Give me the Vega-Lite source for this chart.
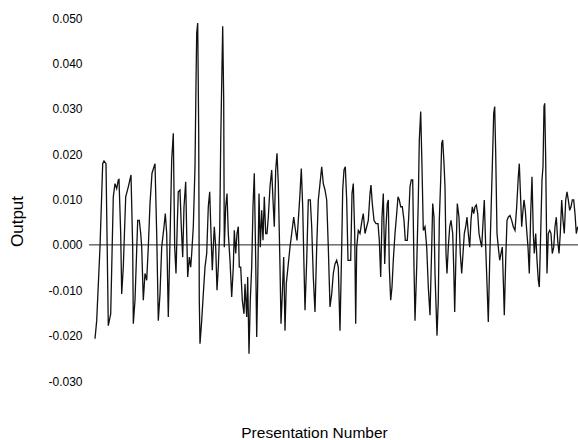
{
  "$schema": "https://vega.github.io/schema/vega-lite/v6.json",
  "width": 489,
  "height": 363,
  "autosize": {"type": "none"},
  "padding": {"left": 89, "top": 18, "right": 0, "bottom": 59},
  "background": "white",
  "config": {"view": {"stroke": null}, "font": "Liberation Sans"},
  "datasets": {
    "series": [
      {"n":6.0,"output":-0.0207},{"n":7.7,"output":-0.0167},{"n":11.0,"output":-0.0005},{"n":13.7,"output":0.0179},{"n":15.0,"output":0.0185},{"n":17.0,"output":0.0179},{"n":19.3,"output":-0.0178},{"n":21.7,"output":-0.0152},{"n":24.3,"output":0.0106},{"n":26.0,"output":0.0135},{"n":27.7,"output":0.0124},{"n":29.3,"output":0.0143},{"n":30.0,"output":0.0144},{"n":31.7,"output":0.0025},{"n":32.7,"output":-0.0108},{"n":34.3,"output":-0.0049},{"n":36.7,"output":0.0106},{"n":39.3,"output":0.0128},{"n":42.0,"output":0.0154},{"n":43.7,"output":-0.0005},{"n":44.3,"output":-0.0174},{"n":46.0,"output":-0.0122},{"n":48.7,"output":0.0054},{"n":50.3,"output":0.0054},{"n":51.7,"output":0.0025},{"n":52.7,"output":-0.0005},{"n":54.3,"output":-0.0122},{"n":56.0,"output":-0.0063},{"n":57.7,"output":-0.0078},{"n":59.3,"output":-0.0005},{"n":61.0,"output":0.0091},{"n":63.0,"output":0.0158},{"n":66.0,"output":0.0179},{"n":67.7,"output":0.0025},{"n":69.3,"output":-0.0167},{"n":71.0,"output":-0.0108},{"n":72.7,"output":-0.0005},{"n":75.0,"output":0.0040},{"n":76.3,"output":0.0069},{"n":77.7,"output":0.0025},{"n":79.3,"output":-0.0159},{"n":81.0,"output":0.0010},{"n":82.7,"output":0.0187},{"n":84.3,"output":0.0246},{"n":85.7,"output":-0.0005},{"n":87.0,"output":-0.0063},{"n":88.3,"output":0.0047},{"n":89.3,"output":0.0117},{"n":91.0,"output":0.0121},{"n":92.3,"output":0.0040},{"n":93.7,"output":-0.0027},{"n":95.0,"output":0.0084},{"n":96.7,"output":0.0139},{"n":97.7,"output":0.0025},{"n":98.7,"output":-0.0071},{"n":100.3,"output":-0.0027},{"n":101.7,"output":-0.0049},{"n":102.7,"output":-0.0019},{"n":104.3,"output":0.0040},{"n":106.0,"output":0.0172},{"n":107.0,"output":0.0356},{"n":107.7,"output":0.0467},{"n":108.7,"output":0.0489},{"n":109.7,"output":0.0246},{"n":110.3,"output":-0.0122},{"n":111.0,"output":-0.0218},{"n":112.7,"output":-0.0167},{"n":114.3,"output":-0.0108},
      {"n":116.0,"output":-0.0049},{"n":117.7,"output":-0.0019},{"n":119.3,"output":0.0084},{"n":120.7,"output":0.0117},{"n":122.0,"output":0.0025},{"n":123.3,"output":-0.0056},{"n":124.3,"output":-0.0005},{"n":125.3,"output":0.0040},{"n":126.7,"output":-0.0005},{"n":128.0,"output":-0.0100},{"n":129.3,"output":-0.0049},{"n":130.7,"output":0.0032},{"n":131.7,"output":0.0224},{"n":132.7,"output":0.0356},{"n":133.7,"output":0.0482},{"n":134.7,"output":0.0319},{"n":135.3,"output":-0.0005},{"n":136.7,"output":0.0084},{"n":138.0,"output":0.0113},{"n":139.3,"output":0.0025},{"n":141.0,"output":-0.0034},{"n":142.7,"output":-0.0115},{"n":144.3,"output":-0.0049},{"n":145.3,"output":0.0032},{"n":146.7,"output":-0.0019},{"n":148.0,"output":0.0025},{"n":149.3,"output":0.0040},{"n":150.3,"output":-0.0049},{"n":151.7,"output":-0.0049},{"n":153.3,"output":-0.0122},{"n":155.0,"output":-0.0152},{"n":156.0,"output":-0.0086},{"n":157.7,"output":-0.0159},{"n":158.7,"output":-0.0071},{"n":160.0,"output":-0.0240},{"n":161.3,"output":-0.0122},{"n":162.7,"output":-0.0049},{"n":164.0,"output":0.0084},{"n":165.3,"output":0.0158},{"n":166.7,"output":-0.0034},{"n":167.7,"output":-0.0203},{"n":168.7,"output":-0.0085},{"n":170.0,"output":0.0113},{"n":171.3,"output":-0.0005},{"n":172.7,"output":0.0076},{"n":174.0,"output":0.0010},{"n":175.3,"output":0.0106},{"n":176.7,"output":0.0025},{"n":178.0,"output":0.0025},{"n":179.3,"output":0.0061},{"n":181.0,"output":0.0128},{"n":182.7,"output":0.0165},{"n":184.0,"output":0.0099},{"n":185.3,"output":0.0040},{"n":186.7,"output":0.0165},{"n":188.0,"output":0.0202},{"n":189.3,"output":0.0135},{"n":191.0,"output":-0.0049},{"n":192.0,"output":-0.0174},{"n":193.3,"output":-0.0108},{"n":194.7,"output":-0.0027},{"n":196.0,"output":-0.0189},{"n":197.3,"output":-0.0085},{"n":199.3,"output":-0.0042},{"n":201.0,"output":-0.0005},{"n":202.7,"output":0.0025},{"n":204.7,"output":0.0061},{"n":206.0,"output":0.0040},{"n":208.0,"output":0.0010},{"n":209.3,"output":0.0054},{"n":211.0,"output":0.0113},{"n":212.3,"output":0.0168},{"n":213.7,"output":0.0084},{"n":215.0,"output":-0.0049},{"n":216.0,"output":-0.0144},{"n":217.7,"output":-0.0034},{"n":219.3,"output":0.0099},{"n":221.3,"output":0.0099},{"n":222.7,"output":0.0040},{"n":224.3,"output":-0.0071},{"n":226.0,"output":-0.0148},{"n":227.7,"output":-0.0005},{"n":229.3,"output":0.0099},{"n":231.0,"output":0.0135},
      {"n":232.7,"output":0.0172},{"n":234.3,"output":0.0135},{"n":236.0,"output":0.0121},{"n":237.7,"output":0.0099},{"n":239.3,"output":-0.0005},{"n":241.0,"output":-0.0137},{"n":242.7,"output":-0.0108},{"n":244.3,"output":-0.0063},{"n":246.0,"output":-0.0042},{"n":247.7,"output":-0.0034},{"n":249.3,"output":-0.0049},{"n":251.0,"output":-0.0189},{"n":252.7,"output":-0.0005},{"n":253.7,"output":0.0121},{"n":255.0,"output":0.0165},{"n":256.3,"output":0.0172},{"n":257.7,"output":0.0099},{"n":259.0,"output":-0.0034},{"n":260.3,"output":-0.0034},{"n":261.7,"output":-0.0034},{"n":263.0,"output":0.0113},{"n":264.3,"output":0.0135},{"n":265.7,"output":0.0025},{"n":266.7,"output":-0.0174},{"n":267.7,"output":-0.0005},{"n":269.3,"output":0.0032},{"n":271.0,"output":0.0025},{"n":273.0,"output":0.0054},{"n":274.3,"output":0.0069},{"n":276.0,"output":0.0025},{"n":277.7,"output":0.0040},{"n":279.3,"output":0.0054},{"n":281.0,"output":0.0113},{"n":282.0,"output":0.0132},{"n":283.3,"output":0.0091},{"n":285.0,"output":0.0054},{"n":287.0,"output":0.0047},{"n":289.0,"output":0.0047},{"n":290.3,"output":0.0010},{"n":291.7,"output":-0.0071},{"n":293.0,"output":0.0061},{"n":294.3,"output":0.0113},{"n":295.7,"output":-0.0042},{"n":297.0,"output":0.0040},{"n":298.3,"output":0.0091},{"n":299.3,"output":0.0099},{"n":300.3,"output":-0.0049},{"n":301.7,"output":-0.0122},{"n":303.0,"output":-0.0093},{"n":304.3,"output":-0.0034},{"n":306.0,"output":0.0025},{"n":307.7,"output":0.0069},{"n":309.0,"output":0.0106},{"n":310.3,"output":0.0099},{"n":311.7,"output":0.0084},{"n":313.3,"output":0.0084},{"n":315.0,"output":0.0054},{"n":316.3,"output":0.0010},{"n":318.3,"output":0.0010},{"n":319.7,"output":0.0061},{"n":321.0,"output":0.0128},{"n":322.3,"output":0.0143},{"n":323.7,"output":0.0143},{"n":325.0,"output":-0.0049},{"n":326.0,"output":-0.0167},{"n":327.7,"output":-0.0049},{"n":329.3,"output":0.0099},{"n":330.3,"output":0.0231},{"n":331.7,"output":0.0294},{"n":333.0,"output":0.0172},{"n":334.3,"output":0.0032},{"n":336.0,"output":0.0040},{"n":337.7,"output":-0.0005},{"n":339.3,"output":-0.0093},{"n":341.0,"output":-0.0155},{"n":342.7,"output":-0.0005},{"n":343.7,"output":0.0091},{"n":345.0,"output":0.0061},{"n":346.0,"output":-0.0063},
      {"n":348.0,"output":-0.0200},{"n":349.3,"output":-0.0122},{"n":350.3,"output":0.0054},{"n":351.7,"output":0.0143},{"n":352.7,"output":0.0224},{"n":353.7,"output":0.0231},{"n":355.0,"output":0.0179},{"n":356.0,"output":0.0128},{"n":357.0,"output":-0.0019},{"n":358.0,"output":-0.0063},{"n":359.3,"output":-0.0005},{"n":360.7,"output":0.0040},{"n":362.0,"output":0.0054},{"n":363.7,"output":0.0025},{"n":364.7,"output":-0.0049},{"n":365.7,"output":-0.0148},{"n":367.0,"output":-0.0019},{"n":368.3,"output":0.0091},{"n":370.0,"output":0.0061},{"n":371.3,"output":-0.0019},{"n":372.7,"output":-0.0063},{"n":374.0,"output":-0.0019},{"n":375.3,"output":0.0025},{"n":376.7,"output":0.0040},{"n":378.0,"output":0.0061},{"n":379.3,"output":0.0025},{"n":380.7,"output":-0.0005},{"n":382.0,"output":0.0054},{"n":383.3,"output":0.0084},{"n":384.7,"output":0.0069},{"n":386.0,"output":0.0084},{"n":387.3,"output":0.0088},{"n":388.7,"output":0.0069},{"n":390.0,"output":0.0025},{"n":391.3,"output":0.0010},{"n":392.7,"output":-0.0005},{"n":394.3,"output":0.0061},{"n":395.3,"output":0.0099},{"n":396.7,"output":-0.0005},{"n":398.0,"output":-0.0085},{"n":399.3,"output":-0.0170},{"n":400.7,"output":-0.0034},{"n":402.0,"output":0.0069},{"n":403.3,"output":0.0172},{"n":404.7,"output":0.0290},{"n":405.7,"output":0.0305},{"n":406.7,"output":0.0202},{"n":408.0,"output":0.0025},{"n":409.3,"output":-0.0005},{"n":410.7,"output":-0.0034},{"n":412.0,"output":-0.0019},{"n":413.3,"output":-0.0005},{"n":414.3,"output":-0.0078},{"n":415.3,"output":-0.0155},{"n":416.7,"output":-0.0034},{"n":418.0,"output":0.0054},{"n":419.3,"output":0.0061},{"n":421.0,"output":0.0065},{"n":422.7,"output":0.0054},{"n":424.3,"output":0.0040},{"n":426.0,"output":0.0032},{"n":427.7,"output":0.0084},{"n":429.3,"output":0.0150},{"n":430.3,"output":0.0179},{"n":431.7,"output":0.0099},{"n":432.7,"output":0.0040},{"n":433.7,"output":0.0069},{"n":435.0,"output":0.0099},{"n":436.3,"output":0.0076},{"n":437.7,"output":0.0032},{"n":439.0,"output":-0.0005},{"n":440.3,"output":-0.0063},{"n":441.7,"output":0.0069},{"n":443.0,"output":0.0150},{"n":444.3,"output":0.0025},{"n":445.3,"output":-0.0019},{"n":446.7,"output":0.0025},{"n":448.0,"output":-0.0034},{"n":449.3,"output":-0.0078},{"n":450.3,"output":-0.0093},{"n":451.7,"output":0.0025},{"n":453.0,"output":0.0143},{"n":454.0,"output":0.0172},{"n":455.0,"output":0.0305},{"n":455.7,"output":0.0312},{"n":456.7,"output":0.0187},{"n":458.0,"output":-0.0063},{"n":459.3,"output":0.0025},{"n":460.7,"output":0.0032},{"n":462.0,"output":0.0025},{"n":463.3,"output":-0.0019},{"n":464.7,"output":-0.0005},{"n":466.0,"output":0.0040},{"n":467.3,"output":0.0061},{"n":468.7,"output":0.0010},{"n":470.0,"output":-0.0019},{"n":471.3,"output":0.0025},{"n":472.7,"output":0.0099},{"n":474.0,"output":0.0054},{"n":475.3,"output":0.0025},{"n":476.7,"output":0.0099},{"n":478.0,"output":0.0117},{"n":479.3,"output":0.0099},{"n":480.7,"output":0.0076},{"n":482.0,"output":0.0084},{"n":483.3,"output":0.0099},{"n":484.7,"output":0.0099},{"n":486.0,"output":0.0069},{"n":487.3,"output":0.0025},{"n":488.7,"output":0.0040}
    ]
  },
  "layer": [
    {
      "data": {"values": [{"zero": 0}]},
      "mark": {"type": "rule", "color": "#222222", "strokeWidth": 1},
      "encoding": {"y": {"field": "zero", "type": "quantitative"}}
    },
    {
      "data": {"name": "series"},
      "mark": {"type": "line", "color": "#111111", "strokeWidth": 1.3, "clip": true},
      "encoding": {
        "x": {
          "field": "n",
          "type": "quantitative",
          "scale": {"domain": [0, 489], "nice": false, "zero": false},
          "axis": {
            "title": "Presentation Number",
            "labels": false,
            "ticks": false,
            "domain": false,
            "grid": false,
            "titleFont": "Liberation Sans",
            "titleFontSize": 15.5,
            "titleFontWeight": "normal",
            "titleColor": "#000000",
            "titleX": 225,
            "titleY": 56,
            "titleBaseline": "alphabetic",
            "titleAlign": "center"
          }
        },
        "y": {
          "field": "output",
          "type": "quantitative",
          "scale": {"domain": [-0.03, 0.05], "nice": false, "zero": false},
          "axis": {
            "title": "Output",
            "values": [-0.03, -0.02, -0.01, 0, 0.01, 0.02, 0.03, 0.04, 0.05],
            "labelExpr": "replace(format(datum.value, '.3f'), '\u2212', '-')",
            "ticks": false,
            "domain": false,
            "grid": false,
            "labelFont": "Liberation Sans",
            "labelFontSize": 12,
            "labelColor": "#000000",
            "labelPadding": 7,
            "titleFont": "Liberation Sans",
            "titleFontSize": 17,
            "titleFontWeight": "normal",
            "titleColor": "#000000",
            "titleAngle": -90,
            "titleX": -72,
            "titleY": 203,
            "titleAlign": "center",
            "titleBaseline": "middle"
          }
        }
      }
    }
  ]
}
